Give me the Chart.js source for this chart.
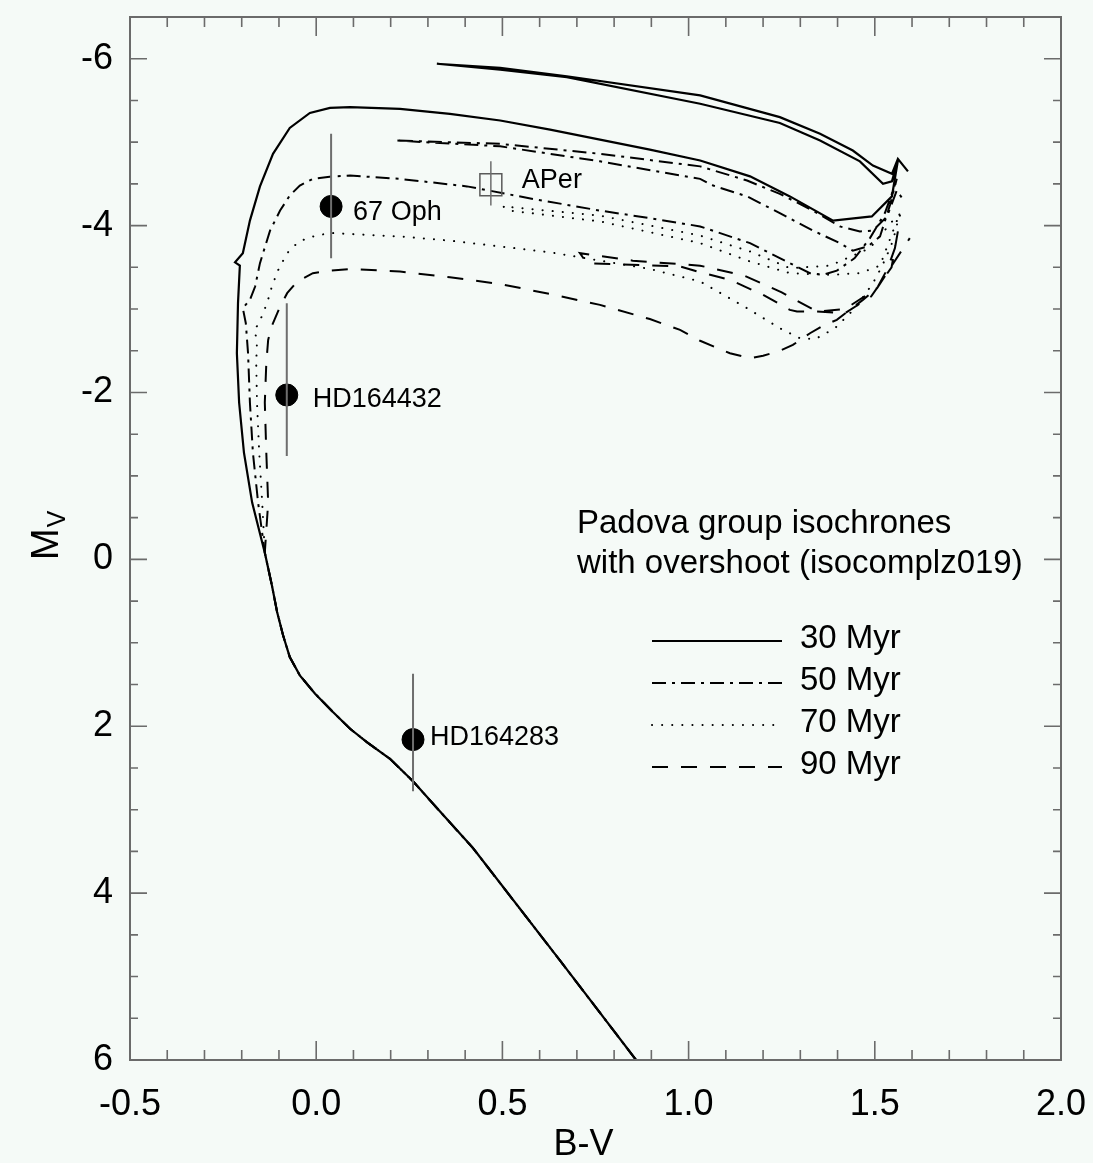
<!DOCTYPE html>
<html>
<head>
<meta charset="utf-8">
<script src="https://cdn.jsdelivr.net/npm/chart.js@4.4.0/dist/chart.umd.min.js"></script>
<style>
  html, body { margin: 0; padding: 0; background: #f5faf7; }
</style>
</head>
<body>
<canvas id="cmd" width="1093" height="1163"></canvas>
<script>
// lower main sequence shared by all isochrones, faint end first: [B-V, Mv]
const mainSeq = [
  [0.859, 6.00], [0.655, 4.81], [0.421, 3.46], [0.332, 3.02], [0.260, 2.66],
  [0.198, 2.39], [0.136, 2.19], [0.091, 2.03], [0.045, 1.83], [-0.003, 1.61],
  [-0.044, 1.39], [-0.071, 1.17], [-0.089, 0.91], [-0.105, 0.63], [-0.119, 0.31],
  [-0.138, -0.08]
];

// evolved parts of each isochrone: [B-V, Mv]
const iso30 = [
  [-0.172, -0.68], [-0.194, -1.28], [-0.207, -1.88], [-0.213, -2.47], [-0.210, -3.07],
  [-0.205, -3.52], [-0.218, -3.56], [-0.197, -3.67], [-0.178, -4.06], [-0.151, -4.47],
  [-0.116, -4.86], [-0.071, -5.17], [-0.017, -5.35], [0.037, -5.41], [0.091, -5.42],
  [0.225, -5.40], [0.359, -5.34], [0.494, -5.26], [0.628, -5.15], [0.762, -5.03],
  [0.896, -4.91], [1.031, -4.78], [1.165, -4.59], [1.272, -4.35], [1.388, -4.06],
  [1.492, -4.11], [1.546, -4.35], [1.562, -4.78], [1.546, -4.53], [1.522, -4.50],
  [1.460, -4.77], [1.353, -5.02], [1.245, -5.23], [1.031, -5.46], [0.673, -5.78],
  [0.494, -5.87], [0.324, -5.94], [0.494, -5.89], [0.673, -5.79], [1.031, -5.56],
  [1.245, -5.30], [1.353, -5.10], [1.441, -4.90], [1.495, -4.72], [1.546, -4.62],
  [1.562, -4.80], [1.589, -4.65]
];
const iso50 = [
  [-0.156, -0.68], [-0.170, -1.28], [-0.178, -1.88], [-0.183, -2.47], [-0.189, -2.83],
  [-0.197, -3.01], [-0.178, -3.11], [-0.164, -3.27], [-0.151, -3.55], [-0.124, -3.94],
  [-0.097, -4.18], [-0.071, -4.36], [-0.044, -4.48], [-0.009, -4.56], [0.045, -4.59],
  [0.091, -4.60], [0.225, -4.56], [0.405, -4.47], [0.582, -4.32], [0.762, -4.18],
  [0.896, -4.09], [1.031, -3.99], [1.165, -3.79], [1.272, -3.55], [1.326, -3.43],
  [1.361, -3.41], [1.398, -3.46], [1.446, -3.61], [1.487, -3.85], [1.527, -4.15],
  [1.549, -4.42], [1.559, -4.56], [1.541, -4.25], [1.514, -3.87], [1.481, -3.75],
  [1.441, -3.70], [1.406, -3.79], [1.334, -3.94], [1.245, -4.15], [1.157, -4.35],
  [1.066, -4.48], [1.031, -4.56], [0.762, -4.77], [0.494, -4.95], [0.212, -5.02],
  [0.494, -4.98], [0.762, -4.86], [1.031, -4.71], [1.157, -4.54], [1.245, -4.38],
  [1.334, -4.18], [1.406, -3.99], [1.460, -3.93], [1.495, -3.94], [1.533, -4.11],
  [1.559, -4.42], [1.575, -4.32]
];
const iso70 = [
  [-0.145, -0.68], [-0.153, -1.28], [-0.159, -1.88], [-0.161, -2.35], [-0.159, -2.63],
  [-0.166, -2.74], [-0.151, -2.86], [-0.132, -3.07], [-0.119, -3.27], [-0.103, -3.46],
  [-0.078, -3.67], [-0.051, -3.79], [-0.025, -3.85], [0.010, -3.89], [0.045, -3.91],
  [0.225, -3.87], [0.359, -3.82], [0.494, -3.75], [0.628, -3.68], [0.762, -3.58],
  [0.896, -3.48], [1.031, -3.33], [1.157, -3.01], [1.245, -2.77], [1.299, -2.65],
  [1.340, -2.64], [1.393, -2.77], [1.447, -3.01], [1.495, -3.31], [1.519, -3.51],
  [1.535, -3.67], [1.549, -3.82], [1.567, -4.15], [1.514, -3.52], [1.460, -3.43],
  [1.380, -3.41], [1.272, -3.43], [1.165, -3.57], [1.031, -3.79], [0.762, -4.05],
  [0.520, -4.18], [0.502, -4.23], [0.762, -4.12], [1.031, -3.88], [1.165, -3.69],
  [1.272, -3.49], [1.380, -3.52], [1.487, -3.73], [1.554, -4.09], [1.581, -4.15]
];
const iso90 = [
  [-0.129, -0.68], [-0.134, -1.28], [-0.138, -1.88], [-0.134, -2.35], [-0.129, -2.63],
  [-0.119, -2.80], [-0.097, -3.03], [-0.078, -3.19], [-0.051, -3.33], [-0.009, -3.43],
  [0.037, -3.46], [0.091, -3.48], [0.225, -3.45], [0.359, -3.38], [0.494, -3.30],
  [0.628, -3.18], [0.762, -3.05], [0.896, -2.88], [0.977, -2.75], [1.031, -2.62],
  [1.111, -2.47], [1.165, -2.41], [1.200, -2.44], [1.245, -2.50], [1.280, -2.57],
  [1.326, -2.71], [1.361, -2.80], [1.398, -2.87], [1.433, -2.99], [1.468, -3.11],
  [1.506, -3.25], [1.535, -3.49], [1.554, -3.73], [1.562, -3.93], [1.545, -3.50],
  [1.490, -3.15], [1.420, -2.95], [1.345, -2.97], [1.291, -2.97], [1.272, -2.99],
  [1.200, -3.17], [1.111, -3.35], [1.023, -3.45], [0.977, -3.51], [0.727, -3.55],
  [0.708, -3.67], [0.850, -3.58], [1.031, -3.52], [1.150, -3.40], [1.250, -3.20],
  [1.345, -2.97], [1.420, -3.00], [1.506, -3.25], [1.594, -3.85]
];

const isoLabels = ['30 Myr', '50 Myr', '70 Myr', '90 Myr'];

// cluster stars with Mv error ranges
const starNames = ['67 Oph', 'HD164432', 'HD164283'];
const starBV = [0.040, -0.079, 0.260];
const starMV = [-4.23, -1.97, 2.16];
const starMVBright = [-5.10, -3.07, 1.37];
const starMVFaint = [-3.61, -1.24, 2.78];

// alpha Persei comparison point
const aperName = 'APer';
const aperBV = 0.469;
const aperMV = -4.49;
const aperMVBright = -4.77;
const aperMVFaint = -4.24;

const xTicks = [-0.5, 0.0, 0.5, 1.0, 1.5, 2.0];
const yTicks = [-6, -4, -2, 0, 2, 4, 6];

const FONT = "'Liberation Sans', Arial, Helvetica, sans-serif";
const BG = '#f5faf7';
const AXIS = '#6b6b6b';
const dashes = [[], [14, 6, 3, 6], [0.1, 10], [16, 13]];
const caps = ['butt', 'butt', 'round', 'butt'];

const toPts = (arr) => arr.map(([bv, mv]) => ({ x: bv, y: mv }));

const isoSets = [iso30, iso50, iso70, iso90].map((iso, i) => ({
  label: isoLabels[i],
  data: toPts(mainSeq.concat(iso)),
  showLine: true,
  borderColor: '#000',
  borderWidth: i === 0 ? 2.2 : 2,
  borderDash: dashes[i],
  borderCapStyle: caps[i],
  pointRadius: 0,
  tension: 0,
  fill: false,
  order: 3,
}));

const errSets = starBV.map((bv, i) => ({
  data: [{ x: bv, y: starMVBright[i] }, { x: bv, y: starMVFaint[i] }],
  showLine: true,
  borderColor: '#6e6e6e',
  borderWidth: 2,
  pointRadius: 0,
  order: 0,
}));
errSets.push({
  data: [{ x: aperBV, y: aperMVBright }, { x: aperBV, y: aperMVFaint }],
  showLine: true,
  borderColor: '#6e6e6e',
  borderWidth: 1.5,
  pointRadius: 0,
  order: 0,
});

const starSet = {
  data: starBV.map((bv, i) => ({ x: bv, y: starMV[i] })),
  showLine: false,
  pointRadius: 11,
  pointBackgroundColor: '#000',
  pointBorderColor: '#000',
  order: 1,
};

const aperSet = {
  data: [{ x: aperBV, y: aperMV }],
  showLine: false,
  pointStyle: 'rect',
  pointRadius: 15.5,
  pointBackgroundColor: 'rgba(0,0,0,0)',
  pointBorderColor: '#5a5a5a',
  pointBorderWidth: 1.5,
  order: 1,
};

// label offsets in pixels from each marker
const starLabelOffsets = [[22, 14], [26, 12], [17, 5]];
const aperLabelOffset = [31, 3];

// the frame is drawn by hand, so drop the padding scales reserve for edge labels
const noEdgePadding = (s) => {
  s.paddingTop = 0; s.paddingBottom = 0; s.paddingLeft = 0; s.paddingRight = 0;
};

const decor = {
  id: 'decor',
  beforeDraw(chart) {
    const { ctx, width, height } = chart;
    ctx.save();
    ctx.fillStyle = BG;
    ctx.fillRect(0, 0, width, height);
    ctx.restore();
  },
  afterDraw(chart) {
    const { ctx, chartArea: a } = chart;
    const sx = chart.scales.x, sy = chart.scales.y;
    ctx.save();

    // frame and inward ticks on all four sides
    ctx.strokeStyle = AXIS;
    ctx.lineWidth = 2;
    ctx.strokeRect(a.left, a.top, a.right - a.left, a.bottom - a.top);
    ctx.lineWidth = 1.6;
    ctx.beginPath();
    for (let i = 0; i <= 25; i++) {
      const px = sx.getPixelForValue(-0.5 + i * 0.1);
      const len = i % 5 === 0 ? 19 : 10;
      ctx.moveTo(px, a.bottom); ctx.lineTo(px, a.bottom - len);
      ctx.moveTo(px, a.top); ctx.lineTo(px, a.top + len);
    }
    for (let i = 0; i <= 25; i++) {
      const v = -6.5 + i * 0.5;
      const py = sy.getPixelForValue(v);
      const len = v % 2 === 0 ? 17 : 8;
      ctx.moveTo(a.left, py); ctx.lineTo(a.left + len, py);
      ctx.moveTo(a.right, py); ctx.lineTo(a.right - len, py);
    }
    ctx.stroke();

    // axis titles
    ctx.fillStyle = '#000';
    ctx.font = '36px ' + FONT;
    ctx.textAlign = 'center';
    ctx.textBaseline = 'alphabetic';
    ctx.fillText('B-V', (a.left + a.right) / 2 - 12, 1155);

    ctx.save();
    ctx.translate(58, 560);
    ctx.rotate(-Math.PI / 2);
    ctx.textAlign = 'left';
    ctx.font = '38px ' + FONT;
    ctx.fillText('M', 0, 0);
    const mw = ctx.measureText('M').width;
    ctx.font = '25px ' + FONT;
    ctx.fillText('V', mw + 1, 7);
    ctx.restore();

    // marker labels
    ctx.textAlign = 'left';
    ctx.font = '27px ' + FONT;
    starNames.forEach((name, i) => {
      const px = sx.getPixelForValue(starBV[i]);
      const py = sy.getPixelForValue(starMV[i]);
      ctx.fillText(name, px + starLabelOffsets[i][0], py + starLabelOffsets[i][1]);
    });
    ctx.fillText(aperName,
      sx.getPixelForValue(aperBV) + aperLabelOffset[0],
      sy.getPixelForValue(aperMV) + aperLabelOffset[1]);

    // key
    ctx.font = '33px ' + FONT;
    ctx.fillText('Padova group isochrones', 577, 533);
    ctx.fillText('with overshoot (isocomplz019)', 577, 573);
    const keyY = [641, 683, 725, 767];
    isoLabels.forEach((lab, i) => {
      ctx.save();
      ctx.strokeStyle = '#000';
      ctx.lineWidth = 2;
      ctx.setLineDash(dashes[i]);
      ctx.lineCap = caps[i];
      ctx.beginPath();
      ctx.moveTo(652, keyY[i]);
      ctx.lineTo(782, keyY[i]);
      ctx.stroke();
      ctx.restore();
      ctx.fillText(lab, 800, keyY[i] + 7);
    });

    ctx.restore();
  }
};

new Chart(document.getElementById('cmd'), {
  type: 'scatter',
  data: { datasets: [...errSets, starSet, aperSet, ...isoSets] },
  options: {
    responsive: false,
    animation: false,
    layout: { padding: { top: 13, right: 32, left: 0, bottom: 0 } },
    plugins: {
      legend: { display: false },
      tooltip: { enabled: false },
    },
    scales: {
      x: {
        type: 'linear',
        min: -0.5,
        max: 2.0,
        afterBuildTicks: (s) => { s.ticks = xTicks.map((v) => ({ value: v })); },
        afterFit: (s) => { s.height = 103; noEdgePadding(s); },
        grid: { display: false },
        border: { display: false },
        ticks: {
          color: '#000',
          font: { size: 36, family: FONT },
          padding: 15,
          maxRotation: 0,
          callback: (v) => Number(v).toFixed(1),
        },
      },
      y: {
        type: 'linear',
        reverse: true,
        min: -6.5,
        max: 6,
        afterBuildTicks: (s) => { s.ticks = yTicks.map((v) => ({ value: v })); },
        afterFit: (s) => { s.width = 130; noEdgePadding(s); },
        grid: { display: false },
        border: { display: false },
        ticks: {
          color: '#000',
          font: { size: 36, family: FONT },
          padding: 9,
          callback: (v) => String(v),
        },
      },
    },
  },
  plugins: [decor],
});
</script>
</body>
</html>
